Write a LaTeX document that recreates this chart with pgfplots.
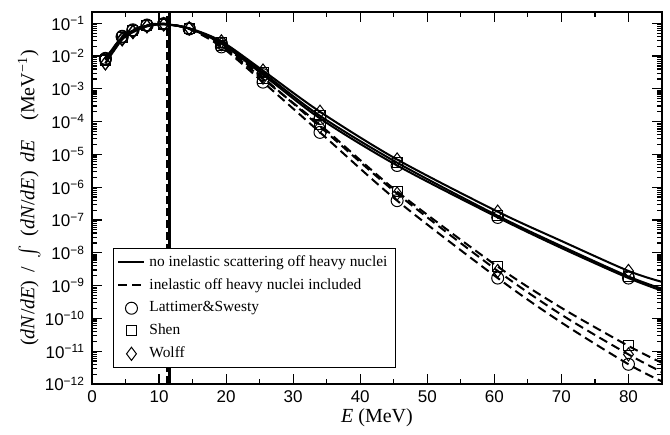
\documentclass[border=0pt]{standalone}
\usepackage{fontspec}
\setmainfont{Liberation Serif}
\newfontfamily\arial{Liberation Sans}
\usepackage{pgfplots}
\pgfplotsset{compat=1.18}
\usepackage{pgfplotstable}

% no inelastic scattering off heavy nuclei (row 70 only shapes the line)
\pgfplotstableread{
E    LS      SH      WO
2    8.5e-3  8.0e-3  6.0e-3
4.5  0.038   0.036   0.032
6.1  0.060   0.058   0.053
8.2  0.085   0.083   0.080
10.7 0.095   0.094   0.092
14.5 0.068   0.069   0.070
19.3 0.024   0.026   0.028
25.5 2.7e-3  3.1e-3  3.6e-3
34   1.25e-4 1.5e-4  2.0e-4
45.5 4.6e-6  5.6e-6  7.0e-6
60.5 1.2e-7  1.35e-7 1.8e-7
70   1.4e-8  1.6e-8  2.3e-8
80   1.7e-9  1.9e-9  2.8e-9
85   7.0e-10 8.0e-10 1.3e-9
}\noinel

% inelastic off heavy nuclei included
\pgfplotstableread{
E    LS      SH      WO
2    8.0e-3  7.5e-3  6.0e-3
4.5  0.040   0.038   0.034
6.1  0.063   0.061   0.056
8.2  0.088   0.086   0.083
10.7 0.097   0.096   0.094
14.5 0.067   0.068   0.069
19.3 0.019   0.021   0.023
25.5 1.6e-3  2.0e-3  2.2e-3
34   4.7e-5  8.0e-5  7.0e-5
45.5 3.9e-7  7.4e-7  6.4e-7
60.5 1.7e-9  3.8e-9  2.8e-9
70   7.5e-11 2.1e-10 1.3e-10
80   4.0e-12 1.45e-11 8.0e-12
85   1.2e-12 4.4e-12 2.3e-12
}\inel

\begin{document}
\begin{tikzpicture}
\begin{axis}[
  scale only axis,
  width=285pt, height=186pt,
  xmin=0, xmax=85,
  ymode=log, ymin=1e-12, ymax=0.22,
  xtick={0,10,...,80},
  minor x tick num=1,
  ytick={1e-12,1e-11,1e-10,1e-9,1e-8,1e-7,1e-6,1e-5,1e-4,1e-3,1e-2,1e-1},
  yticklabels={10\textsuperscript{−12},10\textsuperscript{−11},10\textsuperscript{−10},
    10\textsuperscript{−9},10\textsuperscript{−8},10\textsuperscript{−7},10\textsuperscript{−6},
    10\textsuperscript{−5},10\textsuperscript{−4},10\textsuperscript{−3},10\textsuperscript{−2},
    10\textsuperscript{−1}},
  xticklabel style={font=\arial\fontsize{8.5}{10}\selectfont},
  yticklabel style={font=\arial\fontsize{8.5}{10}\selectfont},
  /pgf/number format/assume math mode=true,
  tick align=inside,
  major tick length=5pt, minor tick length=2.5pt,
  tick style={black, line width=0.6pt},
  axis line style={line width=1.2pt},
  xlabel={\textit{E} (MeV)},
  ylabel={(\textit{dN}/\textit{dE})\, /\, $\int$\, (\textit{dN}/\textit{dE})\, \textit{dE}\quad (MeV\textsuperscript{−1})},
  label style={font=\fontsize{10}{12}\selectfont},
  every axis x label/.style={at={(axis description cs:0.5,0)}, anchor=center, yshift=-17pt},
  every axis y label/.style={at={(axis description cs:-0.11,0.5)}, rotate=90, anchor=center},
  legend style={at={(axis description cs:0.0368,0.3656)}, anchor=north west,
    draw=black, line width=0.5pt, font=\fontsize{7.7}{9}\selectfont,
    row sep=0.6pt, inner xsep=2pt, inner ysep=1.5pt},
  legend cell align=left,
  legend image code/.code={\draw[mark repeat=2,mark phase=2] plot coordinates {(0pt,0pt) (6.5pt,0pt) (13pt,0pt)};},
  marks/.style={black, only marks, line width=0.5pt, restrict x to domain=0:81,
    skip coords between index={11}{12}, forget plot},
]
% curves
\addplot[black, line width=1pt, smooth, forget plot] table[x=E,y=LS] {\noinel};
\addplot[black, line width=1pt, smooth, forget plot] table[x=E,y=SH] {\noinel};
\addplot[black, line width=1pt, smooth, forget plot] table[x=E,y=WO] {\noinel};
\addplot[black, line width=1pt, smooth, dash pattern=on 4.5pt off 2.5pt, forget plot] table[x=E,y=LS] {\inel};
\addplot[black, line width=1pt, smooth, dash pattern=on 4.5pt off 2.5pt, forget plot] table[x=E,y=SH] {\inel};
\addplot[black, line width=1pt, smooth, dash pattern=on 4.5pt off 2.5pt, forget plot] table[x=E,y=WO] {\inel};
% markers
\addplot[marks, mark=o, mark size=3pt] table[x=E,y=LS] {\noinel};
\addplot[marks, mark=square, mark size=2.5pt] table[x=E,y=SH] {\noinel};
\addplot[marks, mark=diamond, mark size=3.3pt] table[x=E,y=WO] {\noinel};
\addplot[marks, mark=o, mark size=3pt] table[x=E,y=LS] {\inel};
\addplot[marks, mark=square, mark size=2.5pt] table[x=E,y=SH] {\inel};
\addplot[marks, mark=diamond, mark size=3.3pt] table[x=E,y=WO] {\inel};
% mean energies
\addplot[black, line width=1.2pt, forget plot] coordinates {(11.55,1e-12) (11.55,0.22)};
\addplot[black, line width=1.2pt, dash pattern=on 4pt off 2pt, forget plot] coordinates {(11.2,1e-12) (11.2,0.22)};
% legend
\addlegendimage{black, line width=1pt}
\addlegendentry{no inelastic scattering off heavy nuclei}
\addlegendimage{black, line width=1pt, dash pattern=on 4.5pt off 2.5pt}
\addlegendentry{inelastic off heavy nuclei included}
\addlegendimage{black, only marks, mark=o, mark size=3pt, line width=0.5pt}
\addlegendentry{Lattimer\&Swesty}
\addlegendimage{black, only marks, mark=square, mark size=2.5pt, line width=0.5pt}
\addlegendentry{Shen}
\addlegendimage{black, only marks, mark=diamond, mark size=3.3pt, line width=0.5pt}
\addlegendentry{Wolff}
\end{axis}
\path ([shift={(-46pt,-25pt)}]current axis.south west) rectangle ([shift={(4pt,6pt)}]current axis.north east);
\end{tikzpicture}
\end{document}
